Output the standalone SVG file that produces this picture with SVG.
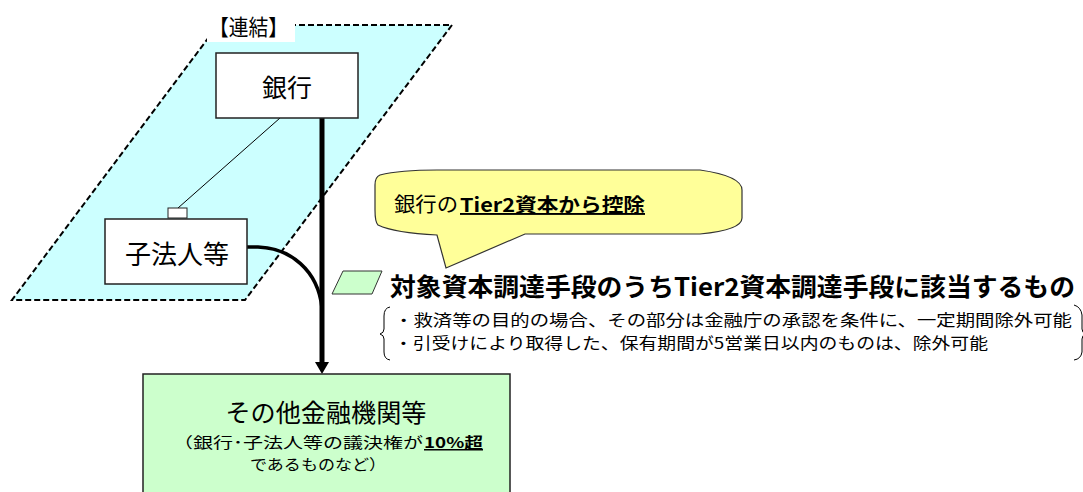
<svg xmlns="http://www.w3.org/2000/svg" width="1083" height="492" viewBox="0 0 1083 492">
<style>
.jp{font-family:"Noto Sans CJK JP","Liberation Sans",sans-serif;fill:#000}
.b{font-weight:bold}
.box{fill:#fff;stroke:#222;stroke-width:1.5}
</style>
<rect width="1083" height="492" fill="#fff"/>
<g id="group-consolidated">
<polygon points="218,25 452,25 245,300 12,300" fill="#CCFFFF" stroke="#000" stroke-width="2" stroke-dasharray="6,3"/>
<rect x="207" y="8" width="88" height="34" fill="#fff"/>
<text class="jp" x="209" y="35" font-size="22" textLength="79" lengthAdjust="spacingAndGlyphs">【連結】</text>
</g>
<g id="connectors" fill="none" stroke="#000">
<line x1="280" y1="118" x2="178" y2="208" stroke-width="1"/>
<path d="M247,247 L258,247 C290,248 318,270 322,308" stroke-width="3.5"/>
<line x1="322" y1="118" x2="322" y2="363" stroke-width="5"/>
<polygon points="315,362 329,362 322,374" fill="#000" stroke="none"/>
</g>
<g id="node-bank">
<rect class="box" x="216" y="53" width="142" height="65"/>
<text class="jp" x="287" y="97" font-size="25" text-anchor="middle">銀行</text>
</g>
<g id="node-subsidiary">
<rect x="168" y="208" width="19" height="10" fill="#fff" stroke="#222" stroke-width="1"/>
<rect class="box" x="105" y="219" width="142" height="65"/>
<text class="jp" x="177" y="264" font-size="26" text-anchor="middle">子法人等</text>
</g>
<g id="node-callout">
<path d="M380,175 Q400,170 437,170 L700,170 Q742,176 742,190 L742,218 Q742,230 700,234 L525,234 L446,268 L437,235 Q395,233 378,225 Q375,222 375,210 L375,185 Q375,177 380,175 Z" fill="#FFFF99" stroke="#333" stroke-width="1.2"/>
<text class="jp" x="394" y="212" font-size="20" textLength="64" lengthAdjust="spacingAndGlyphs">銀行の</text>
<text class="jp b" x="460" y="212" font-size="19" textLength="185" lengthAdjust="spacingAndGlyphs" text-decoration="underline">Tier2資本から控除</text>
</g>
<g id="node-legend">
<polygon points="343,271 382,271 372,294 332,294" fill="#CCFFCC" stroke="#333" stroke-width="1"/>
<text class="jp b" x="390" y="296" font-size="25" textLength="685" lengthAdjust="spacingAndGlyphs">対象資本調達手段のうちTier2資本調達手段に該当するもの</text>
<path d="M390,307 Q384,308 384,316 L384,329 Q384,333 380,334 Q384,335 384,339 L384,352 Q384,359 390,360" fill="none" stroke="#000" stroke-width="1"/>
<path d="M1074,305 Q1081,307 1082,315 L1082,329 Q1082,333 1086,334 Q1082,335 1082,339 L1082,352 Q1081,359 1074,360" fill="none" stroke="#000" stroke-width="1"/>
<text class="jp" x="394" y="326" font-size="15.8" textLength="678" lengthAdjust="spacingAndGlyphs">・救済等の目的の場合、その部分は金融庁の承認を条件に、一定期間除外可能</text>
<text class="jp" x="394" y="349" font-size="15.8" textLength="594" lengthAdjust="spacingAndGlyphs">・引受けにより取得した、保有期間が5営業日以内のものは、除外可能</text>
</g>
<g id="node-other-fi">
<rect x="143" y="374" width="367" height="130" fill="#CCFFCC" stroke="#222" stroke-width="1.5"/>
<text class="jp" x="326" y="422" font-size="25" text-anchor="middle" textLength="201" lengthAdjust="spacingAndGlyphs">その他金融機関等</text>
<text class="jp" x="173" y="448" font-size="15" textLength="250" lengthAdjust="spacingAndGlyphs">（銀行･子法人等の議決権が</text>
<text class="jp b" x="424" y="448" font-size="15" textLength="59" lengthAdjust="spacingAndGlyphs" text-decoration="underline">10%超</text>
<text class="jp" x="250" y="470" font-size="15" textLength="136" lengthAdjust="spacingAndGlyphs">であるものなど）</text>
</g>
</svg>
